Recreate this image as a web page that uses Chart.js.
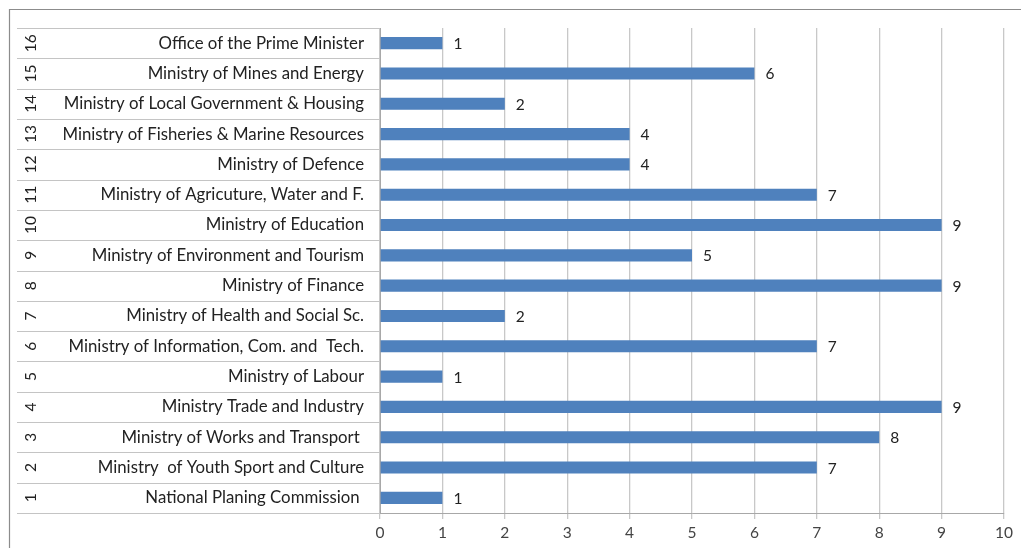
<!DOCTYPE html>
<html>
<head>
<meta charset="utf-8">
<script src="https://cdn.jsdelivr.net/npm/chart.js@4/dist/chart.umd.min.js"></script>
<style>
  html, body { margin: 0; padding: 0; background: #fff; }
  #wrap { width: 1021px; height: 548px; position: relative; }
</style>
</head>
<body>
<div id="wrap"><canvas id="c"></canvas></div>
<script>
// Category numbers (bottom to top) and ministry names
const rowNumbers = ['1','2','3','4','5','6','7','8','9','10','11','12','13','14','15','16'];
const ministries = [
  'National Planing Commission ',
  'Ministry  of Youth Sport and Culture',
  'Ministry of Works and Transport ',
  'Ministry Trade and Industry',
  'Ministry of Labour',
  'Ministry of Information, Com. and  Tech.',
  'Ministry of Health and Social Sc.',
  'Ministry of Finance',
  'Ministry of Environment and Tourism',
  'Ministry of Education',
  'Ministry of Agricuture, Water and F.',
  'Ministry of Defence',
  'Ministry of Fisheries & Marine Resources',
  'Ministry of Local Government & Housing',
  'Ministry of Mines and Energy',
  'Office of the Prime Minister'
];
const counts = [1, 7, 8, 9, 1, 7, 2, 9, 5, 9, 7, 4, 4, 2, 6, 1];
const xTicks = [0, 1, 2, 3, 4, 5, 6, 7, 8, 9, 10];

const FONT = 'Lato, "Open Sans", sans-serif';
const LABEL_AREA_LEFT = 17;

const decorPlugin = {
  id: 'decor',
  beforeDraw(chart) {
    const ctx = chart.ctx;
    ctx.save();
    ctx.strokeStyle = '#8c8c8c';
    ctx.lineWidth = 1.2;
    ctx.beginPath();
    ctx.moveTo(9.5, 548);
    ctx.lineTo(9.5, 9.5);
    ctx.lineTo(1021, 9.5);
    ctx.stroke();
    ctx.restore();
  },
  afterDraw(chart) {
    const ctx = chart.ctx;
    const y = chart.scales.y;
    const area = chart.chartArea;
    const n = ministries.length;
    const step = (y.getPixelForValue(0) - y.getPixelForValue(1));
    ctx.save();
    // row separators in label area
    ctx.strokeStyle = '#c4c4c4';
    ctx.lineWidth = 1;
    for (let i = 0; i < n; i++) {
      const cy = y.getPixelForValue(i);
      const top = Math.round(cy - step / 2) + 0.5;
      ctx.beginPath();
      ctx.moveTo(LABEL_AREA_LEFT, top);
      ctx.lineTo(area.left, top);
      ctx.stroke();
      if (i === 0) {
        const bot = Math.round(cy + step / 2) + 0.5;
        ctx.beginPath();
        ctx.moveTo(LABEL_AREA_LEFT, bot);
        ctx.lineTo(area.left, bot);
        ctx.stroke();
      }
    }
    // rotated row numbers
    ctx.fillStyle = '#222';
    ctx.font = '15.5px ' + FONT;
    ctx.textAlign = 'center';
    ctx.textBaseline = 'middle';
    for (let i = 0; i < n; i++) {
      const cy = y.getPixelForValue(i);
      ctx.save();
      ctx.translate(31, cy);
      ctx.rotate(-Math.PI / 2);
      ctx.fillText(rowNumbers[i], 0, 0);
      ctx.restore();
    }
    // data labels
    const meta = chart.getDatasetMeta(0);
    ctx.fillStyle = '#222';
    ctx.font = '15.5px ' + FONT;
    ctx.textAlign = 'left';
    ctx.textBaseline = 'middle';
    meta.data.forEach((bar, i) => {
      ctx.fillText(String(counts[i]), bar.x + 11, bar.y + 1);
    });
    ctx.restore();
  }
};

new Chart(document.getElementById('c'), {
  type: 'bar',
  data: {
    labels: ministries,
    datasets: [{
      data: counts,
      backgroundColor: '#4f81bd',
      borderWidth: 0,
      categoryPercentage: 1,
      barPercentage: 0.4
    }]
  },
  options: {
    indexAxis: 'y',
    responsive: true,
    maintainAspectRatio: false,
    animation: false,
    layout: { padding: { left: LABEL_AREA_LEFT, top: 28, right: 17, bottom: 0 } },
    plugins: {
      legend: { display: false },
      tooltip: { enabled: false }
    },
    scales: {
      x: {
        min: 0,
        max: 10,
        afterBuildTicks(scale) { scale.ticks = xTicks.map(v => ({ value: v })); },
        afterFit(scale) { scale.height = 35; },
        grid: { color: '#c8c8c8', lineWidth: 1.3, tickLength: 6, drawTicks: true },
        border: { display: true, color: '#a8a8a8', width: 1 },
        ticks: { color: '#444', font: { family: FONT, size: 15.5 }, padding: 5, autoSkip: false }
      },
      y: {
        reverse: true,
        afterFit(scale) { scale.width = 363; },
        grid: { display: false, drawTicks: false },
        border: { display: true, color: '#a8a8a8', width: 1 },
        ticks: { color: '#222', font: { family: FONT, size: 16.8 }, padding: 16, autoSkip: false }
      }
    }
  },
  plugins: [decorPlugin]
});
</script>
</body>
</html>
